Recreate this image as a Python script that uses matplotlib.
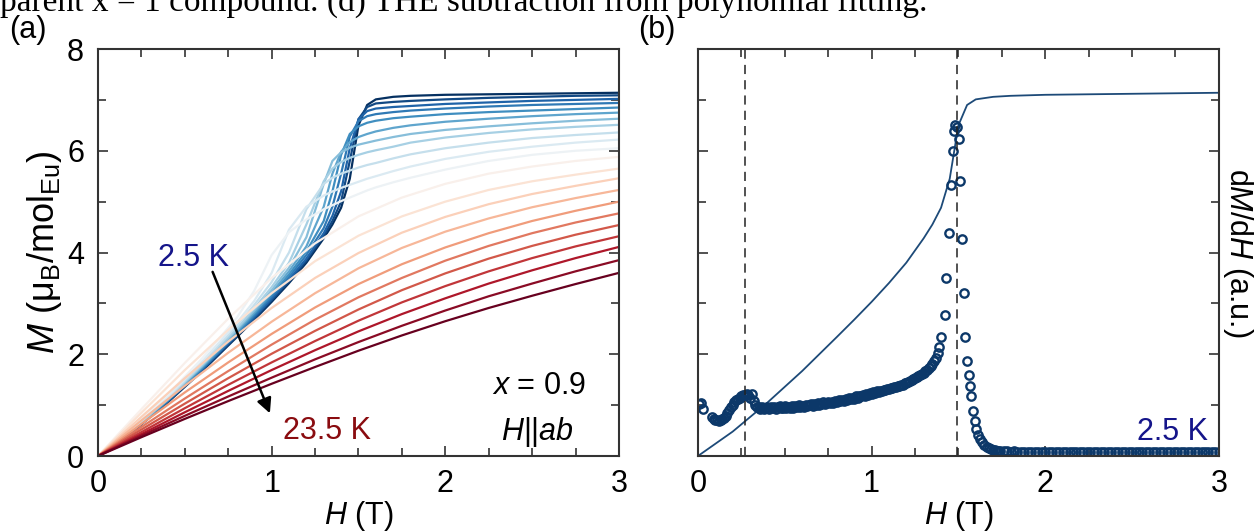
import numpy as np
import matplotlib
matplotlib.use('Agg')
import matplotlib.pyplot as plt
from matplotlib.ticker import MultipleLocator, NullFormatter

plt.rcParams['font.family'] = ['Liberation Sans', 'DejaVu Sans']
plt.rcParams['mathtext.fontset'] = 'custom'
plt.rcParams['mathtext.rm'] = 'Liberation Sans'
plt.rcParams['mathtext.it'] = 'Liberation Sans:italic'

# ---- M(H) isotherms, x = 0.9, H || ab ----
temps = [2.5, 3.5, 4.5, 5.5, 6.5, 7.5, 8.5, 9.5, 10.5, 11.5, 12.5,
         13.5, 14.5, 15.5, 16.5, 17.5, 18.5, 19.5, 20.5, 21.5, 22.5, 23.5]

# low temperatures (metamagnetic step), denser field grid
H_low = [0, 0.2, 0.4, 0.6, 0.8, 0.9, 1.0, 1.1, 1.2, 1.3, 1.35, 1.4, 1.45,
         1.5, 1.55, 1.6, 1.7, 1.8, 2.0, 2.25, 2.5, 2.75, 3.0]
M_low = [
    [0, 0.48, 1.05, 1.67, 2.34, 2.68, 3.03, 3.40, 3.80, 4.28, 4.55, 4.88, 5.45, 6.50, 6.90, 7.01, 7.06, 7.08, 7.10, 7.11, 7.12, 7.13, 7.14],
    [0, 0.49, 1.06, 1.69, 2.36, 2.70, 3.06, 3.43, 3.84, 4.33, 4.62, 5.00, 5.80, 6.62, 6.86, 6.93, 6.96, 6.98, 7.01, 7.04, 7.06, 7.08, 7.09],
    [0, 0.49, 1.07, 1.70, 2.38, 2.73, 3.09, 3.47, 3.88, 4.38, 4.72, 5.20, 6.05, 6.62, 6.78, 6.83, 6.86, 6.88, 6.92, 6.95, 6.98, 7.00, 7.02],
    [0, 0.50, 1.08, 1.72, 2.40, 2.76, 3.13, 3.52, 3.95, 4.48, 4.90, 5.55, 6.28, 6.58, 6.68, 6.72, 6.76, 6.79, 6.83, 6.87, 6.90, 6.92, 6.94],
    [0, 0.50, 1.09, 1.73, 2.42, 2.79, 3.17, 3.57, 4.02, 4.62, 5.20, 5.92, 6.33, 6.48, 6.55, 6.59, 6.64, 6.67, 6.72, 6.76, 6.79, 6.82, 6.85],
    [0, 0.51, 1.10, 1.75, 2.45, 2.82, 3.21, 3.63, 4.12, 4.90, 5.55, 5.98, 6.17, 6.27, 6.33, 6.38, 6.45, 6.50, 6.57, 6.63, 6.68, 6.72, 6.75],
    [0, 0.51, 1.11, 1.77, 2.48, 2.86, 3.26, 3.70, 4.30, 5.35, 5.80, 5.97, 6.06, 6.12, 6.16, 6.20, 6.27, 6.33, 6.41, 6.48, 6.54, 6.59, 6.63],
    [0, 0.52, 1.12, 1.79, 2.51, 2.90, 3.32, 3.80, 4.55, 5.40, 5.65, 5.78, 5.86, 5.92, 5.97, 6.01, 6.08, 6.16, 6.26, 6.35, 6.42, 6.47, 6.51],
    [0, 0.53, 1.14, 1.82, 2.56, 2.97, 3.42, 4.00, 4.85, 5.35, 5.47, 5.55, 5.61, 5.67, 5.72, 5.76, 5.85, 5.93, 6.05, 6.16, 6.25, 6.31, 6.36],
    [0, 0.54, 1.16, 1.86, 2.62, 3.05, 3.60, 4.45, 4.90, 5.12, 5.20, 5.27, 5.33, 5.39, 5.45, 5.50, 5.60, 5.69, 5.84, 5.98, 6.08, 6.16, 6.22],
    [0, 0.56, 1.20, 1.92, 2.72, 3.25, 3.95, 4.40, 4.65, 4.85, 4.93, 5.01, 5.08, 5.15, 5.22, 5.28, 5.38, 5.47, 5.63, 5.80, 5.92, 6.00, 6.05],
]

# paramagnetic side
H_high = [0, 0.25, 0.5, 0.75, 1.0, 1.25, 1.5, 1.75, 2.0, 2.25, 2.5, 2.75, 3.0]
M_high = [
    [0, 0.92, 1.83, 2.70, 3.50, 4.18, 4.71, 5.08, 5.35, 5.55, 5.69, 5.80, 5.88],
    [0, 0.85, 1.69, 2.48, 3.20, 3.83, 4.33, 4.71, 5.00, 5.23, 5.40, 5.53, 5.65],
    [0, 0.77, 1.53, 2.25, 2.91, 3.50, 3.99, 4.39, 4.70, 4.95, 5.15, 5.31, 5.46],
    [0, 0.70, 1.38, 2.03, 2.64, 3.20, 3.69, 4.09, 4.41, 4.67, 4.89, 5.07, 5.23],
    [0, 0.63, 1.25, 1.84, 2.40, 2.92, 3.38, 3.77, 4.10, 4.38, 4.62, 4.82, 5.00],
    [0, 0.57, 1.13, 1.67, 2.19, 2.68, 3.12, 3.50, 3.84, 4.13, 4.38, 4.59, 4.77],
    [0, 0.52, 1.03, 1.53, 2.01, 2.46, 2.88, 3.26, 3.59, 3.88, 4.13, 4.35, 4.54],
    [0, 0.47, 0.94, 1.40, 1.84, 2.26, 2.66, 3.02, 3.34, 3.63, 3.89, 4.12, 4.32],
    [0, 0.43, 0.86, 1.28, 1.69, 2.08, 2.45, 2.79, 3.10, 3.39, 3.65, 3.89, 4.11],
    [0, 0.40, 0.79, 1.17, 1.54, 1.90, 2.24, 2.56, 2.86, 3.14, 3.39, 3.63, 3.85],
    [0, 0.37, 0.73, 1.08, 1.42, 1.75, 2.07, 2.37, 2.65, 2.91, 3.15, 3.38, 3.60],
]

# ---- dM/dH at 2.5 K ----
# below the first transition
H_d1 = [0.005, 0.015, 0.03, 0.08, 0.09, 0.10, 0.11, 0.12, 0.13, 0.14, 0.15, 0.16,
        0.17, 0.18, 0.19, 0.20, 0.21, 0.22, 0.23, 0.24, 0.25, 0.26, 0.27, 0.28,
        0.29, 0.30, 0.31, 0.32, 0.33, 0.34]
dM_d1 = [1.03, 1.05, 0.93, 0.76, 0.72, 0.71, 0.70, 0.69, 0.70, 0.72, 0.75, 0.79,
         0.84, 0.90, 0.96, 1.01, 1.06, 1.10, 1.13, 1.15, 1.17, 1.19, 1.20, 1.21,
         1.19, 1.15, 1.22, 1.08, 1.00, 0.96]
# intermediate phase
H_d2 = [0.35, 0.36, 0.37, 0.38, 0.39, 0.40, 0.41, 0.42, 0.43, 0.44,
        0.45, 0.46, 0.47, 0.48, 0.49, 0.50, 0.51, 0.52, 0.53, 0.54,
        0.55, 0.56, 0.57, 0.58, 0.59, 0.60, 0.61, 0.62, 0.63, 0.64,
        0.65, 0.66, 0.67, 0.68, 0.69, 0.70, 0.71, 0.72, 0.73, 0.74,
        0.75, 0.76, 0.77, 0.78, 0.79, 0.80, 0.81, 0.82, 0.83, 0.84,
        0.85, 0.86, 0.87, 0.88, 0.89, 0.90, 0.91, 0.92, 0.93, 0.94,
        0.95, 0.96, 0.97, 0.98, 0.99, 1.00, 1.01, 1.02, 1.03, 1.04,
        1.05, 1.06, 1.07, 1.08, 1.09, 1.10, 1.11, 1.12, 1.13, 1.14,
        1.15, 1.16, 1.17, 1.18, 1.19, 1.20, 1.21, 1.22, 1.23, 1.24,
        1.25, 1.26, 1.27, 1.28, 1.29, 1.30, 1.31, 1.32, 1.33, 1.34,
        1.35, 1.36, 1.37, 1.38, 1.39]
dM_d2 = [0.97, 0.93, 0.96, 0.92, 0.95, 0.97, 0.93, 0.96, 0.94, 0.97,
         0.93, 0.96, 0.98, 0.94, 0.95, 0.98, 0.94, 0.97, 0.95, 0.99,
         0.95, 0.98, 0.96, 1.00, 0.96, 0.99, 0.97, 1.01, 0.98, 1.00,
         1.02, 0.98, 1.03, 1.00, 1.04, 1.01, 1.03, 1.06, 1.02, 1.05,
         1.07, 1.04, 1.07, 1.05, 1.09, 1.06, 1.10, 1.08, 1.11, 1.09,
         1.12, 1.10, 1.14, 1.12, 1.15, 1.13, 1.17, 1.15, 1.18, 1.17,
         1.20, 1.18, 1.22, 1.20, 1.23, 1.22, 1.25, 1.23, 1.27, 1.25,
         1.28, 1.27, 1.30, 1.29, 1.32, 1.31, 1.34, 1.33, 1.36, 1.35,
         1.38, 1.37, 1.40, 1.40, 1.43, 1.43, 1.46, 1.47, 1.49, 1.51,
         1.53, 1.55, 1.57, 1.60, 1.62, 1.64, 1.67, 1.70, 1.73, 1.77,
         1.81, 1.86, 1.93, 2.02, 2.15]
# spin-flop peak
H_d3 = [1.40, 1.42, 1.428, 1.445, 1.46, 1.466, 1.477, 1.483, 1.491, 1.502, 1.508,
        1.523, 1.530, 1.536, 1.551, 1.562, 1.567, 1.572, 1.583, 1.593, 1.604,
        1.615, 1.625, 1.636, 1.65, 1.665, 1.678, 1.69, 1.70, 1.71, 1.72, 1.73, 1.742]
dM_d3 = [2.33, 2.77, 3.50, 4.39, 5.32, 6.00, 6.38, 6.51, 6.47, 6.24, 5.41,
         4.26, 3.20, 2.33, 1.86, 1.59, 1.38, 1.17, 0.89, 0.68, 0.54,
         0.41, 0.34, 0.28, 0.22, 0.18, 0.15, 0.13, 0.12, 0.11, 0.10, 0.10, 0.09]
# saturated
H_d4 = [1.76, 1.78, 1.80, 1.82, 1.84, 1.86, 1.88, 1.90, 1.92, 1.94, 1.96,
        1.98, 2.00, 2.02, 2.04, 2.06, 2.08, 2.10, 2.12, 2.14, 2.16, 2.18,
        2.20, 2.22, 2.24, 2.26, 2.28, 2.30, 2.32, 2.34, 2.36, 2.38, 2.40,
        2.42, 2.44, 2.46, 2.48, 2.50, 2.52, 2.54, 2.56, 2.58, 2.60, 2.62,
        2.64, 2.66, 2.68, 2.70, 2.72, 2.74, 2.76, 2.78, 2.80, 2.82, 2.84,
        2.86, 2.88, 2.90, 2.92, 2.94, 2.96, 2.98, 3.00]
dM_d4 = [0.09, 0.09, 0.08, 0.09, 0.08, 0.08, 0.07, 0.08, 0.08, 0.07, 0.08,
         0.07, 0.08, 0.07, 0.08, 0.07, 0.07, 0.08, 0.07, 0.08, 0.07, 0.07,
         0.08, 0.07, 0.07, 0.08, 0.07, 0.07, 0.07, 0.08, 0.07, 0.07, 0.08,
         0.07, 0.07, 0.08, 0.07, 0.07, 0.07, 0.07, 0.08, 0.07, 0.07, 0.07,
         0.08, 0.07, 0.07, 0.07, 0.07, 0.08, 0.07, 0.08, 0.07, 0.07, 0.07,
         0.07, 0.08, 0.07, 0.07, 0.07, 0.07, 0.08, 0.07]
H_transitions = [0.27, 1.49]

navy = '#0c3869'
fig = plt.figure(figsize=(12.58, 5.31), dpi=100)
ax1 = fig.add_axes([0.0779, 0.1412, 0.4141, 0.7665])
ax2 = fig.add_axes([0.5548, 0.1412, 0.4141, 0.7665])


def style(ax):
    ax.set_xlim(0, 3)
    ax.set_ylim(0, 8)
    ax.xaxis.set_major_locator(MultipleLocator(1))
    ax.xaxis.set_minor_locator(MultipleLocator(0.25))
    ax.yaxis.set_major_locator(MultipleLocator(2))
    ax.yaxis.set_minor_locator(MultipleLocator(1))
    ax.tick_params(which='both', direction='in', top=True, right=True,
                   color='#333333', width=1.2, labelsize=22)
    ax.tick_params(axis='x', pad=9)
    ax.tick_params(axis='y', pad=10)
    ax.tick_params(which='major', length=7)
    ax.tick_params(which='minor', length=6)
    for s in ax.spines.values():
        s.set_color('#333333')
        s.set_linewidth(1.5)
    ax.set_xlabel(r'$\mathit{H}$ (T)', fontsize=22, labelpad=0)


# (a)
colors = plt.get_cmap('RdBu_r')(np.linspace(0, 1, len(temps)))
curves = [(H_low, m) for m in M_low] + [(H_high, m) for m in M_high]
for (h, m), c in zip(curves, colors):
    ax1.plot(h, m, color=c, lw=1.6)
style(ax1)
ax1.set_ylabel(r'$\mathit{M}$ (μ$_\mathrm{B}$/mol$_\mathrm{Eu}$)', fontsize=26, labelpad=2)
ax1.text(0.55, 3.9, '2.5 K', color='#15158a', fontsize=22, ha='center', va='center')
ax1.text(1.32, 0.5, '23.5 K', color='#8a0c10', fontsize=22, ha='center', va='center')
ax1.annotate('', xy=(0.99, 0.84), xytext=(0.66, 3.62),
             arrowprops=dict(arrowstyle='-|>', color='black', lw=1.8,
                             mutation_scale=22, shrinkA=0, shrinkB=0))
ax1.text(2.81, 1.38, r'$\mathit{x}$ = 0.9', fontsize=22, ha='right', va='center')
ax1.text(2.74, 0.47, r'$\mathit{H}$||$\mathit{ab}$', fontsize=22, ha='right', va='center')

# (b)
style(ax2)
ax2.yaxis.set_major_formatter(NullFormatter())
ax2.plot(H_low, M_low[0], color='#1d4a78', lw=1.3)
for hd, dd in [(H_d1, dM_d1), (H_d2, dM_d2), (H_d3, dM_d3), (H_d4, dM_d4)]:
    ax2.plot(hd, dd, 'o', mfc='none', mec=navy, ms=6, mew=1.7)
for hx in H_transitions:
    ax2.axvline(hx, color='#222222', lw=1.1, ls=(0, (6, 4)))
ax2.yaxis.set_label_position('right')
ax2.set_ylabel(r'd$\mathit{M}$/d$\mathit{H}$ (a.u.)', fontsize=22, rotation=270, labelpad=26)
ax2.text(2.94, 0.47, '2.5 K', color='#15158a', fontsize=22, ha='right', va='center')

fig.text(0.022, 0.944, '(a)', fontsize=22, ha='center', va='center')
fig.text(0.522, 0.944, '(b)', fontsize=22, ha='center', va='center')
fig.text(0.0, 0.979, 'parent x = 1 compound. (d) THE subtraction from polynomial fitting.',
         fontsize=24, family='Liberation Serif', ha='left', va='baseline')

fig.savefig('out.png', dpi=100)
